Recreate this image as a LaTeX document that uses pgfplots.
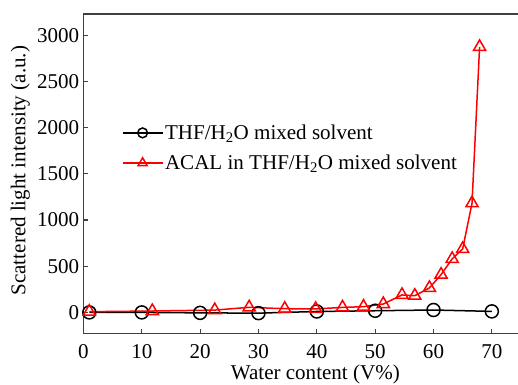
\documentclass[border=0pt]{standalone}
\usepackage{fontspec}
\setmainfont{Liberation Serif}
\usepackage{pgfplots}
\pgfplotsset{compat=1.18}
\usetikzlibrary{calc}
\begin{document}
\begin{tikzpicture}
\begin{axis}[name=ax, scale only axis, width=436.7pt, height=319pt,
 xmin=0, xmax=75, ymin=-230, ymax=3230,
 xtick={0,10,...,70}, ytick={0,500,...,3000},
 tick align=inside, xtick pos=bottom, ytick pos=left, major tick length=4.5pt,
 axis line style={black!75, line width=1.2pt},
 every tick/.style={black!75, line width=1.2pt},
 font=\fontsize{21}{25}\selectfont,
 /pgf/number format/assume math mode=true,
 /pgf/number format/1000 sep={},
 xticklabel style={inner sep=1pt, yshift=-10pt},
 yticklabel style={inner sep=1pt, xshift=-3pt},
 xlabel={Water content (V\%)},
 every axis x label/.style={at={(rel axis cs:0.53,0)}, yshift=-46pt, anchor=base},
 ylabel={Scattered light intensity (a.u.)},
 every axis y label/.style={at={(rel axis cs:0,0.51)}, xshift=-63pt, rotate=90, anchor=center},
 legend style={at={(rel axis cs:0.08,0.665)}, anchor=north west, draw=none, fill=none,
   font=\fontsize{21}{25}\selectfont, row sep=11pt, nodes={inner sep=1.5pt}},
 legend cell align=left,
 legend image code/.code={\draw[line width=1.8pt, mark repeat=2, mark phase=2, every mark/.append style={scale=0.75, line width=1.5pt}] plot coordinates {(0pt,0pt) (20pt,0pt) (40pt,0pt)};},
 clip=false,
]
\addplot[black, line width=1.5pt, mark=o, mark size=6.5pt, mark options={line width=1.5pt}]
 coordinates {(1,0) (10,0) (20,-5) (30,-8) (40,10) (50,18) (60,26) (70,11)};
\addlegendentry{THF/H\textsubscript{2}O mixed solvent}
\addplot[red, line width=1.5pt, mark=triangle, mark size=7pt, mark options={line width=1.5pt, solid}]
 coordinates {(1,8) (11.8,15) (22.5,25) (28.4,55) (34.5,40) (39.8,38) (44.4,54) (48,62) (51.4,91) (54.6,189) (56.8,181) (59.3,265) (61.3,409) (63.2,579) (65,687) (66.6,1182) (67.9,2874)};
\addlegendentry{ACAL in THF/H\textsubscript{2}O mixed solvent}
\end{axis}
\pgfresetboundingbox
\path ($(ax.south west)+(-83.3pt,-51pt)$) rectangle ($(ax.north east)+(-3pt,14pt)$);
\end{tikzpicture}
\end{document}
